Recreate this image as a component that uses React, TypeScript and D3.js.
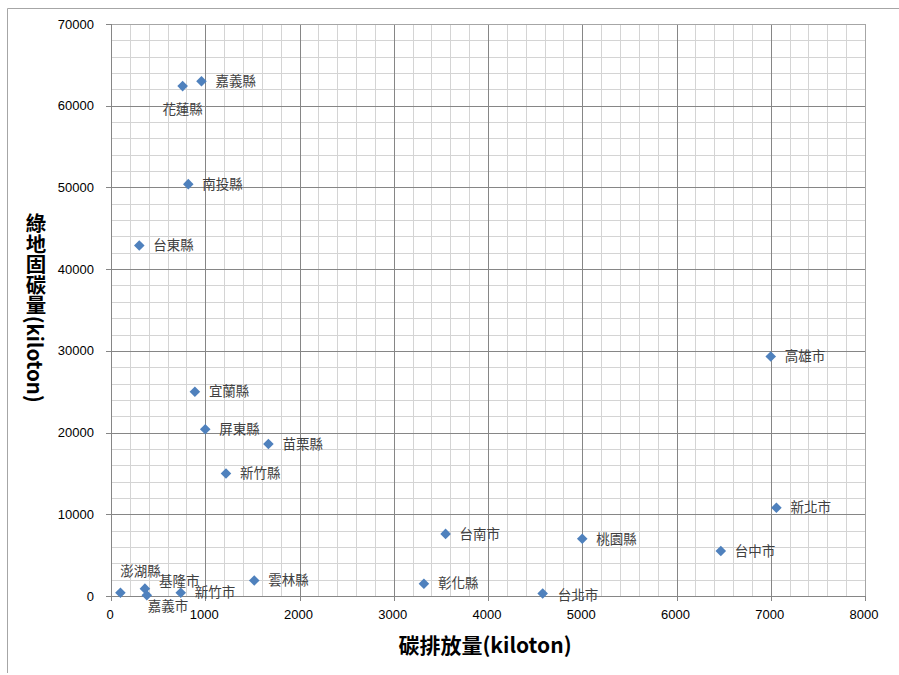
import React from "react";
import * as d3 from "d3";

// Counties / cities of Taiwan
const regions = [
  "嘉義縣", "花蓮縣", "南投縣", "台東縣", "宜蘭縣", "屏東縣", "苗栗縣", "新竹縣",
  "高雄市", "新北市", "台中市", "台南市", "桃園縣", "彰化縣", "台北市", "雲林縣",
  "新竹市", "基隆市", "嘉義市", "澎湖縣",
];
// Carbon emission (kiloton)
const carbonEmission = [
  960, 760, 820, 300, 890, 1000, 1670, 1220,
  7000, 7060, 6470, 3550, 5000, 3320, 4580, 1520,
  740, 360, 380, 100,
];
// Carbon sequestered by green land (kiloton)
const greenCarbon = [
  63000, 62400, 50400, 42900, 25000, 20400, 18600, 15000,
  29300, 10800, 5500, 7600, 7000, 1500, 300, 1900,
  400, 900, 100, 400,
];

const xTicks = [0, 1000, 2000, 3000, 4000, 5000, 6000, 7000, 8000];
const yTicks = [0, 10000, 20000, 30000, 40000, 50000, 60000, 70000];
const xMinorStep = 200;
const yMinorStep = 2000;

const xTitle = "碳排放量(kiloton)";
const yTitle = "綠地固碳量(kiloton)";

// Label offsets where the default right-side placement would collide
const labelPlacement: Record<string, { dx: number; dy: number; anchor: string }> = {
  花蓮縣: { dx: 0, dy: 23, anchor: "middle" },
  澎湖縣: { dx: 20, dy: -21, anchor: "middle" },
  基隆市: { dx: 14, dy: -7, anchor: "start" },
  嘉義市: { dx: 1, dy: 11, anchor: "start" },
  台北市: { dx: 15, dy: 2, anchor: "start" },
};

const W = 899;
const H = 675;
const plot = { left: 111, right: 865, top: 24, bottom: 596 };

export default function App() {
  const x = d3.scaleLinear().domain([0, 8000]).range([plot.left, plot.right]);
  const y = d3.scaleLinear().domain([0, 70000]).range([plot.bottom, plot.top]);

  const xMinor = d3.range(0, 8000 + 1, xMinorStep).filter((v) => v % 1000 !== 0);
  const yMinor = d3.range(0, 70000 + 1, yMinorStep).filter((v) => v % 10000 !== 0);

  const diamond = d3.symbol().type(d3.symbolSquare).size(56)() as string;
  const cjk = '"Noto Sans CJK TC", "Noto Sans", sans-serif';
  const num = '"Liberation Sans", Arial, sans-serif';

  return (
    <svg
      width={W}
      height={H}
      style={{ position: "absolute", left: 0, top: 0, background: "#fff" }}
    >
      {/* chart area frame */}
      <line x1={7.5} x2={W} y1={8.5} y2={8.5} stroke="#a6a6a6" />
      <line x1={7.5} x2={7.5} y1={8.5} y2={673} stroke="#a6a6a6" />

      {/* minor gridlines */}
      {xMinor.map((v) => (
        <line key={"xm" + v} x1={Math.round(x(v)) + 0.5} x2={Math.round(x(v)) + 0.5}
          y1={plot.top} y2={plot.bottom} stroke="#d4d4d4" />
      ))}
      {yMinor.map((v) => (
        <line key={"ym" + v} x1={plot.left} x2={plot.right}
          y1={Math.round(y(v)) + 0.5} y2={Math.round(y(v)) + 0.5} stroke="#d4d4d4" />
      ))}
      {/* major gridlines */}
      {xTicks.map((v) => (
        <line key={"xM" + v} x1={Math.round(x(v)) + 0.5} x2={Math.round(x(v)) + 0.5}
          y1={plot.top} y2={plot.bottom} stroke="#868686" />
      ))}
      {yTicks.map((v) => (
        <line key={"yM" + v} x1={plot.left} x2={plot.right}
          y1={Math.round(y(v)) + 0.5} y2={Math.round(y(v)) + 0.5} stroke="#868686" />
      ))}
      {/* plot frame */}
      <line x1={Math.round(x(8000)) + 0.5} x2={Math.round(x(8000)) + 0.5}
        y1={plot.top} y2={plot.bottom} stroke="#a6a6a6" />
      <line x1={plot.left} x2={plot.right} y1={Math.round(y(70000)) + 0.5}
        y2={Math.round(y(70000)) + 0.5} stroke="#a6a6a6" />

      {/* axes */}
      <line x1={Math.round(x(0)) + 0.5} x2={Math.round(x(0)) + 0.5}
        y1={plot.top} y2={plot.bottom + 0.5} stroke="#868686" />
      <line x1={plot.left} x2={plot.right + 0.5} y1={Math.round(y(0)) + 0.5}
        y2={Math.round(y(0)) + 0.5} stroke="#868686" />
      {yTicks.map((v) => (
        <g key={"yt" + v}>
          <line x1={plot.left - 5} x2={plot.left} y1={Math.round(y(v)) + 0.5}
            y2={Math.round(y(v)) + 0.5} stroke="#868686" />
          <text x={plot.left - 17} y={y(v)} dy="0.35em" textAnchor="end"
            fontFamily={num} fontSize={13} fill="#000">{v}</text>
        </g>
      ))}
      {xTicks.map((v) => (
        <g key={"xt" + v}>
          <line x1={Math.round(x(v)) + 0.5} x2={Math.round(x(v)) + 0.5}
            y1={plot.bottom} y2={plot.bottom + 5} stroke="#868686" />
          <text x={x(v) - 1} y={plot.bottom + 18} dy="0.35em" textAnchor="middle"
            fontFamily={num} fontSize={13} fill="#000">{v}</text>
        </g>
      ))}

      {/* points and labels */}
      {regions.map((name, i) => {
        const px = x(carbonEmission[i]);
        const py = y(greenCarbon[i]);
        const p = labelPlacement[name] ?? { dx: 14, dy: 0, anchor: "start" };
        return (
          <g key={name}>
            <path d={diamond} transform={`translate(${px},${py}) rotate(45)`} fill="#4f81bd" />
            <text x={px + p.dx} y={py + p.dy} dy="0.35em" textAnchor={p.anchor}
              fontFamily={cjk} fontSize={13.5} fill="#404040">{name}</text>
          </g>
        );
      })}

      {/* axis titles */}
      <text x={(plot.left + plot.right) / 2 - 3} y={646} dy="0.35em" textAnchor="middle"
        fontFamily={cjk} fontSize={21} fontWeight="bold" fill="#000">{xTitle}</text>
      <text x={36} y={(plot.top + plot.bottom) / 2 - 2} textAnchor="middle"
        style={{ writingMode: "vertical-rl" }}
        fontFamily={cjk} fontSize={20.5} fontWeight="bold" fill="#000">{yTitle}</text>
    </svg>
  );
}
